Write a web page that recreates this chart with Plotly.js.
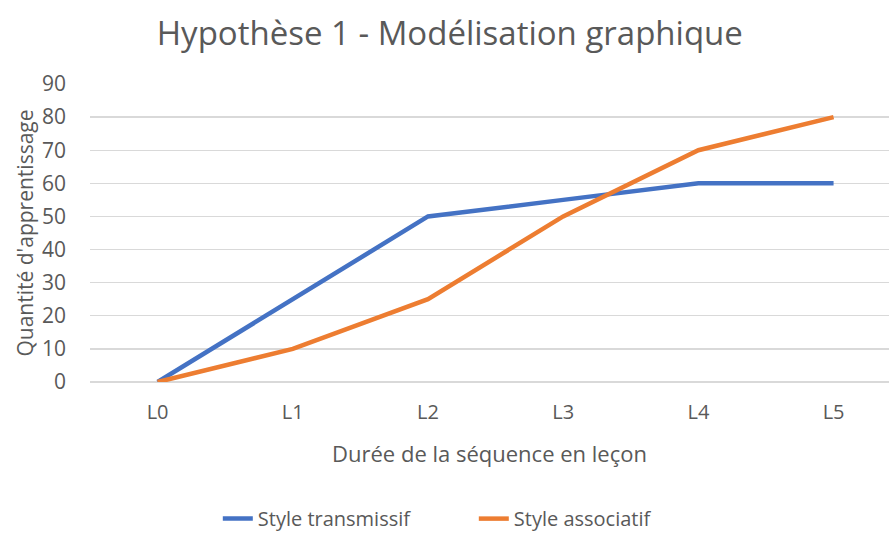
<!DOCTYPE html>
<html><head><meta charset="utf-8">
<script src="https://cdn.plot.ly/plotly-3.0.1.min.js"></script>
<style>html,body{margin:0;padding:0;background:#fff}#c{width:889px;height:533px}</style>
</head><body><div id="c"></div>
<script>
const categories = ["L0","L1","L2","L3","L4","L5"];
const transmissif = [0,25,50,55,60,60];
const associatif = [0,10,25,50,70,80];
const seriesNames = ["Style transmissif","Style associatif"];
const F = "Open Sans, Liberation Sans, sans-serif";
const grey = "#595959";
const traces = [
 {x:categories,y:transmissif,name:seriesNames[0],type:"scatter",mode:"lines",line:{color:"#4472C4",width:4.5}},
 {x:categories,y:associatif,name:seriesNames[1],type:"scatter",mode:"lines",line:{color:"#ED7D31",width:4.5}}
];
const layout = {
 width:889,height:533,
 margin:{l:90,r:0,t:84,b:151},
 paper_bgcolor:"#fff",plot_bgcolor:"#fff",
 font:{family:F,color:grey,size:20},
 title:{text:"Hypothèse 1 - Modélisation graphique",font:{family:F,size:33,color:grey},x:0.506,xanchor:"center",yref:"container",y:0.938,yanchor:"middle"},
 xaxis:{type:"category",range:[-0.5,5.41],showgrid:false,zeroline:false,showline:false,ticks:"",automargin:false,
   tickfont:{size:20,color:grey},ticklabelstandoff:16,
   title:{text:"Durée de la séquence en leçon",font:{size:22,color:grey},standoff:22}},
 yaxis:{range:[0,90],dtick:10,gridcolor:"#d9d9d9",gridwidth:1.3,zeroline:true,zerolinecolor:"#d9d9d9",zerolinewidth:1.3,automargin:false,
   tickfont:{size:21,color:grey},ticklabelstandoff:23,
   title:{text:"Quantité d'apprentissage",font:{size:21,color:grey},standoff:2}},
 showlegend:true,
 legend:{orientation:"h",xref:"container",x:0.245,xanchor:"left",yref:"container",y:0.027,yanchor:"middle",font:{size:20,color:grey},tracegroupgap:0,entrywidth:211,entrywidthmode:"pixels"}
};
Plotly.newPlot("c",traces,layout,{displayModeBar:false,staticPlot:true});
</script></body></html>
